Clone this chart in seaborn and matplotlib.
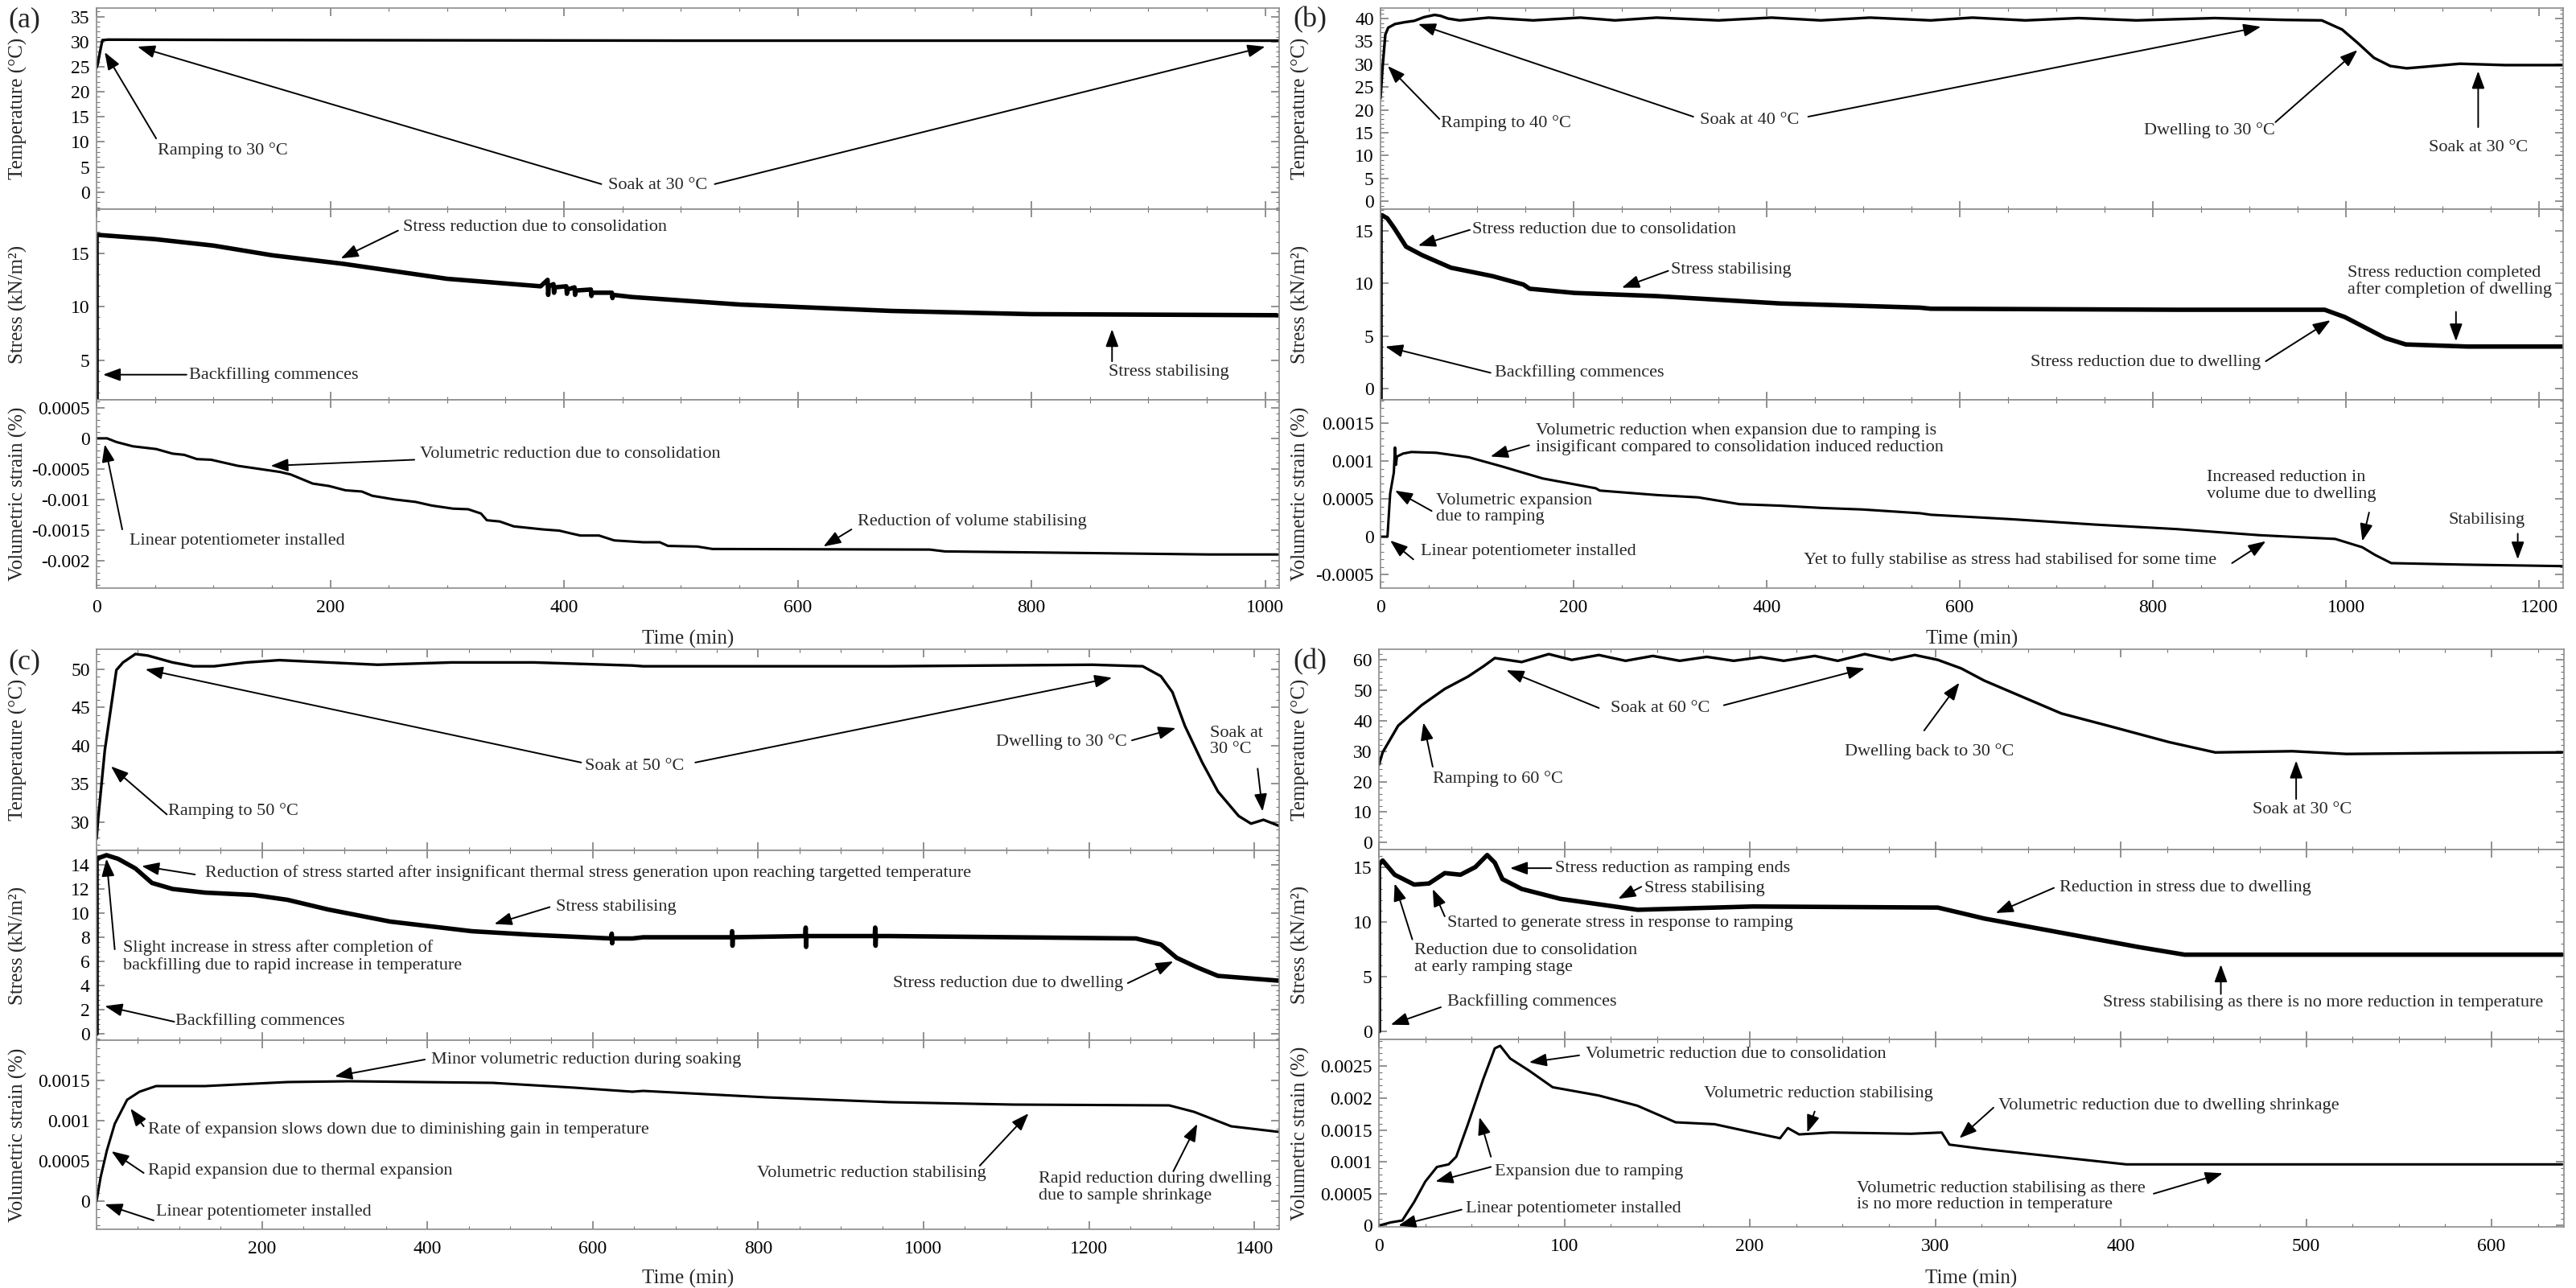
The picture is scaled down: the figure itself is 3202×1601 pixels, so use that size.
import numpy as np
import pandas as pd
import seaborn as sns
import matplotlib.pyplot as plt
from matplotlib.ticker import MultipleLocator, AutoMinorLocator, FuncFormatter

# ---------------- values ----------------
# (a) soak at 30 C
a_temp_t = [0, 1, 3, 5, 10, 200, 500, 800, 1012]
a_temp_v = [24.8, 25.5, 28.0, 30.3, 30.4, 30.3, 30.2, 30.2, 30.2]
a_stress_t = [0, 0, 1, 50, 100, 150, 211, 300, 380, 386, 386.5, 387, 391, 391.5, 392,
              402, 402.5, 403, 409, 409.5, 410, 423, 423.5, 424, 441, 441.5, 442,
              458, 550, 680, 800, 1010]
a_stress_v = [0, 16.7, 16.7, 16.3, 15.7, 14.8, 14.0, 12.6, 11.9, 12.5, 11.1, 11.9, 12.1, 11.3, 11.8,
              11.9, 11.2, 11.6, 11.8, 11.1, 11.5, 11.6, 11.0, 11.3, 11.3, 10.8, 11.1,
              10.9, 10.2, 9.6, 9.3, 9.2]
a_strain_t = [0, 9, 17, 31, 51, 65, 75, 86, 98, 121, 132, 157, 166, 185, 199, 213, 227, 236,
              255, 273, 287, 305, 318, 329, 334, 345, 357, 382, 396, 407, 414, 430, 443,
              468, 482, 489, 514, 527, 713, 726, 819, 952, 1012]
a_strain_v = [0, 0, -0.00006, -0.00013, -0.000175, -0.00025, -0.00027, -0.00034, -0.00035,
              -0.00045, -0.00048, -0.00055, -0.00059, -0.00074, -0.00078, -0.00085, -0.00087,
              -0.00094, -0.0010, -0.00104, -0.0011, -0.00115, -0.00116, -0.00123, -0.00134,
              -0.00136, -0.00144, -0.00149, -0.00151, -0.00156, -0.00159, -0.00159, -0.00167,
              -0.0017, -0.0017, -0.00176, -0.00177, -0.00181, -0.00182, -0.00185, -0.00187,
              -0.0019, -0.0019]

# (b) soak at 40 C then dwell to 30 C
b_temp_t = [0, 2, 5, 8, 15, 25, 35, 45, 56, 62, 70, 82, 112, 158, 207, 243, 286, 350, 405,
            456, 507, 570, 613, 668, 723, 783, 864, 937, 975, 996, 1012, 1029, 1046, 1063,
            1080, 1118, 1165, 1225]
b_temp_v = [22.5, 29.0, 36.5, 38.0, 38.8, 39.2, 39.5, 40.3, 40.8, 40.6, 40.0, 39.6, 40.2,
            39.6, 40.2, 39.6, 40.2, 39.6, 40.2, 39.6, 40.2, 39.6, 40.2, 39.6, 40.1, 39.6,
            40.1, 39.7, 39.6, 37.6, 34.7, 31.4, 29.6, 29.1, 29.4, 30.1, 29.8, 29.8]
b_stress_t = [0, 0, 1.5, 7, 14, 26.5, 43, 73, 116, 148, 154.5, 201, 286, 414, 559, 570,
              825, 978, 999, 1020, 1041, 1062, 1126, 1228]
b_stress_v = [-1, 16.3, 16.5, 16.2, 15.3, 13.5, 12.7, 11.5, 10.7, 9.9, 9.5, 9.1, 8.8, 8.1,
              7.7, 7.6, 7.5, 7.5, 6.8, 5.8, 4.8, 4.2, 4.0, 4.0]
b_strain_t = [0, 7.2, 10, 13.8, 15, 16, 17, 23.5, 32, 57.5, 91.5, 125.5, 168, 223, 227, 287,
              329, 372, 414, 457, 499, 559, 570, 655, 740, 825, 910, 989, 1017, 1030, 1047,
              1124, 1227]
b_strain_v = [0, 0, 0.00057, 0.00085, 0.00118, 0.00095, 0.00106, 0.0011, 0.00112, 0.00111,
              0.00105, 0.00093, 0.00077, 0.00064, 0.00061, 0.00055, 0.00052, 0.00043, 0.00041,
              0.00038, 0.00036, 0.00031, 0.00029, 0.00023, 0.00016, 0.0001, 0.00002, -0.00003,
              -0.00014, -0.00024, -0.00035, -0.00037, -0.00039]

# (c) soak at 50 C then dwell to 30 C
c_temp_t = [0, 2, 10, 24, 32, 47, 62, 92, 117, 142, 181, 221, 280, 340, 429, 529, 648, 661,
            959, 1204, 1265, 1287, 1301, 1316, 1337, 1356, 1381, 1396, 1411, 1430]
c_temp_v = [27.8, 30.5, 39.4, 49.9, 50.9, 52.0, 51.8, 50.9, 50.4, 50.4, 50.9, 51.2, 50.9,
            50.6, 50.9, 50.9, 50.5, 50.4, 50.4, 50.6, 50.4, 49.1, 47.0, 42.6, 37.8, 34.0,
            30.8, 29.8, 30.3, 29.5]
c_stress_t = [0, 0, 12, 26, 47, 67, 92, 131, 190, 231, 280, 355, 454, 528, 622, 623, 623.5,
              624, 648, 661, 768, 768.5, 769, 769.5, 857, 857.5, 858, 858.5, 941, 941.5, 942,
              942.5, 959, 1257, 1287, 1306, 1331, 1356, 1430]
c_stress_v = [0, 14.5, 14.8, 14.5, 13.7, 12.5, 12.0, 11.7, 11.5, 11.1, 10.3, 9.3, 8.5, 8.2,
              7.9, 8.3, 7.5, 7.9, 7.9, 8.0, 8.0, 8.5, 7.3, 8.0, 8.1, 8.8, 7.2, 8.1, 8.1, 8.8,
              7.3, 8.1, 8.1, 7.9, 7.4, 6.3, 5.5, 4.8, 4.4]
c_strain_t = [0, 5, 12.5, 22, 37, 52, 72, 131, 231, 305, 479, 578, 648, 661, 810, 959, 1108,
              1297, 1327, 1372, 1430]
c_strain_v = [0, 0.0003, 0.00063, 0.00096, 0.00126, 0.00136, 0.00143, 0.00143, 0.00148,
              0.00149, 0.00147, 0.00141, 0.00136, 0.00137, 0.00129, 0.00123, 0.0012, 0.00119,
              0.00111, 0.00093, 0.00086]

# (d) soak at 60 C then dwell back to 30 C
d_temp_t = [0, 2, 10.4, 23, 35.6, 48, 56.4, 62.5, 77, 91.6, 104, 118.6, 133, 147.7, 162.2,
            176.8, 191.3, 205.9, 218.3, 235, 247.4, 262, 276.5, 289, 301.4, 314, 326.4, 368,
            393, 426, 451, 492.6, 521.7, 575.7, 638]
d_temp_v = [25.5, 29.6, 38.4, 45.1, 50.5, 54.5, 57.9, 60.6, 59.3, 61.9, 60.0, 61.6, 59.7,
            61.3, 59.7, 61.0, 59.7, 60.9, 59.7, 61.3, 59.7, 61.9, 60.0, 61.6, 60.0, 57.2,
            53.2, 42.4, 38.4, 33.0, 29.6, 30.0, 29.1, 29.4, 29.6]
d_stress_t = [0, 0, 2, 8.5, 19, 27, 35.5, 44, 52, 58.4, 62.5, 66.6, 77, 97.8, 127, 139.5,
              201.7, 301.4, 314, 326.4, 368, 409.5, 434.4, 492.6, 638]
d_stress_v = [0, 15.2, 15.6, 14.3, 13.4, 13.5, 14.45, 14.3, 15.0, 16.1, 15.4, 13.9, 13.0,
              12.1, 11.4, 11.1, 11.4, 11.3, 10.8, 10.3, 9.0, 7.7, 7.0, 7.0, 7.0]
d_strain_t = [0, 6.4, 12.6, 19, 25, 31.3, 37.6, 41.7, 48, 56.3, 62.5, 65.4, 70.8, 81, 93.7,
              118.6, 139.4, 160, 181, 201.7, 216.3, 220.5, 226.6, 244, 287, 303.5, 307.6,
              326.4, 368, 403, 454, 638]
d_strain_v = [0, 0.00005, 0.00008, 0.00037, 0.00069, 0.00092, 0.00096, 0.00108, 0.00159,
              0.0023, 0.00278, 0.00282, 0.00262, 0.00243, 0.00217, 0.00204, 0.00188, 0.00162,
              0.00159, 0.00146, 0.00137, 0.00153, 0.00143, 0.00146, 0.00144, 0.00146, 0.00127,
              0.0012, 0.00107, 0.00096, 0.00096, 0.00096]

# tick labels
a_temp_ticks = [0, 5, 10, 15, 20, 25, 30, 35]
a_stress_ticks = [5, 10, 15]
a_strain_ticks = [0.0005, 0, -0.0005, -0.001, -0.0015, -0.002]
b_temp_ticks = [0, 5, 10, 15, 20, 25, 30, 35, 40]
b_stress_ticks = [0, 5, 10, 15]
b_strain_ticks = [-0.0005, 0, 0.0005, 0.001, 0.0015]
c_temp_ticks = [30, 35, 40, 45, 50]
c_stress_ticks = [0, 2, 4, 6, 8, 10, 12, 14]
c_strain_ticks = [0, 0.0005, 0.001, 0.0015]
d_temp_ticks = [0, 10, 20, 30, 40, 50, 60]
d_stress_ticks = [0, 5, 10, 15]
d_strain_ticks = [0, 0.0005, 0.001, 0.0015, 0.002, 0.0025]
a_xticks = [0, 200, 400, 600, 800, 1000]
b_xticks = [0, 200, 400, 600, 800, 1000, 1200]
c_xticks = [200, 400, 600, 800, 1000, 1200, 1400]
d_xticks = [0, 100, 200, 300, 400, 500, 600]

# annotations: (row, text, text position, ha, [(arrow tail, arrow tip), ...])
a_notes = [
    (0, 'Ramping to 30 °C', (52, 8.3), 'left', [((51, 10.7), (7, 27.9))]),
    (0, 'Soak at 30 °C', (480, 1.4), 'center', [((432, 1.6), (35, 29)), ((529, 1.6), (1000, 29))]),
    (1, 'Stress reduction due to consolidation', (262, 17.4), 'left', [((258, 17.1), (209, 14.5))]),
    (1, 'Stress stabilising', (866, 3.9), 'left', [((869, 4.9), (869, 7.9))]),
    (1, 'Backfilling commences', (79, 3.6), 'left', [((77, 3.65), (5.5, 3.65))]),
    (2, 'Volumetric reduction due to consolidation', (277, -0.00026), 'left',
     [((272, -0.00035), (149, -0.00045))]),
    (2, 'Linear potentiometer installed', (28, -0.00168), 'left', [((22, -0.00149), (7, -0.0001))]),
    (2, 'Reduction of volume stabilising', (651, -0.00136), 'left', [((646, -0.00149), (622, -0.00177))]),
]
b_notes = [
    (0, 'Ramping to 40 °C', (62.5, 17.1), 'left', [((61, 18), (7.5, 29.6))]),
    (0, 'Soak at 40 °C', (331, 17.8), 'left', [((324, 18.5), (39, 38.8)), ((443, 18.5), (912, 38.2))]),
    (0, 'Dwelling to 30 °C', (791, 15.5), 'left', [((927, 17.3), (1012, 33.1))]),
    (0, 'Soak at 30 °C', (1137, 11.8), 'center', [((1137, 16.2), (1137, 28.5))]),
    (1, 'Stress reduction due to consolidation', (95, 15.1), 'left', [((92.5, 15.1), (39, 13.6))]),
    (1, 'Stress stabilising', (301, 11.3), 'left', [((298, 11.2), (250, 9.6))]),
    (1, 'Backfilling commences', (118, 1.5), 'left', [((114, 1.5), (5, 4.0))]),
    (1, 'Stress reduction due to dwelling', (912, 2.5), 'right', [((917, 2.6), (984, 6.5))]),
    (1, 'Stress reduction completed\nafter completion of dwelling', (1002, 10.2), 'left',
     [((1114, 7.3), (1114, 4.5))]),
    (2, 'Volumetric reduction when expansion due to ramping is\ninsigificant compared to consolidation induced reduction',
     (161, 0.00129), 'left', [((154, 0.00121), (114, 0.00106))]),
    (2, 'Volumetric expansion\ndue to ramping', (57.5, 0.00037), 'left', [((53, 0.00034), (15, 0.00061))]),
    (2, 'Linear potentiometer installed', (41.7, -0.0002), 'left', [((34, -0.0003), (10, -0.00005))]),
    (2, 'Yet to fully stabilise as stress had stabilised for some time', (866, -0.00031), 'right',
     [((882, -0.00035), (917, -0.00006))]),
    (2, 'Increased reduction in\nvolume due to dwelling', (856, 0.00067), 'left',
     [((1024, 0.00032), (1017, -0.00006))]),
    (2, 'Stabilising', (1106, 0.00022), 'left', [((1178, 0.00004), (1178, -0.0003))]),
]
c_notes = [
    (0, 'Ramping to 50 °C', (87, 31.5), 'left', [((85, 31), (17.5, 37.3))]),
    (0, 'Soak at 50 °C', (590, 37.3), 'left', [((586, 37.8), (59, 50.0)), ((724, 37.8), (1228, 48.9))]),
    (0, 'Dwelling to 30 °C', (1246, 40.5), 'right', [((1252, 40.7), (1305, 42.3))]),
    (0, 'Soak at\n30 °C', (1346, 40.6), 'left', [((1404, 37), (1410, 31.4))]),
    (1, 'Reduction of stress started after insignificant thermal stress generation upon reaching targetted temperature',
     (131, 13.3), 'left', [((119, 13.2), (54.5, 13.9))]),
    (1, 'Stress stabilising', (555, 10.5), 'left', [((548, 10.5), (481, 9.1))]),
    (1, 'Slight increase in stress after completion of\nbackfilling due to rapid increase in temperature',
     (32, 6.4), 'left', [((22, 7), (12, 14.5))]),
    (1, 'Backfilling commences', (95, 1.07), 'left', [((94, 1.0), (10, 2.3))]),
    (1, 'Stress reduction due to dwelling', (1241, 4.2), 'right', [((1247, 4.2), (1302, 6.0))]),
    (2, 'Minor volumetric reduction during soaking', (405, 0.00176), 'left', [((397, 0.00176), (288, 0.00155))]),
    (2, 'Rate of expansion slows down due to diminishing gain in temperature', (62, 0.00089), 'left',
     [((57, 0.00093), (41, 0.00115))]),
    (2, 'Rapid expansion due to thermal expansion', (62, 0.00038), 'left', [((57, 0.00035), (18, 0.00062))]),
    (2, 'Linear potentiometer installed', (72, -0.00013), 'left', [((69, -0.00024), (10, -0.00004))]),
    (2, 'Volumetric reduction stabilising', (1076, 0.00035), 'right', [((1068, 0.00044), (1127, 0.00109))]),
    (2, 'Rapid reduction during dwelling\ndue to sample shrinkage', (1139, 0.00017), 'left',
     [((1302, 0.00037), (1331, 0.00096))]),
]
d_notes = [
    (0, 'Ramping to 60 °C', (29, 21), 'left', [((29, 24.9), (24, 39.4))]),
    (0, 'Soak at 60 °C', (125, 44.2), 'left', [((118.6, 44.2), (68.7, 56.6)), ((186, 45.1), (262, 57.2))]),
    (0, 'Dwelling back to 30 °C', (297, 30), 'center', [((294, 36.8), (313, 52.5))]),
    (0, 'Soak at 30 °C', (498, 10.7), 'center', [((494.6, 14.3), (494.6, 26.9))]),
    (1, 'Stress reduction as ramping ends', (95, 14.9), 'left', [((93, 14.9), (70.7, 14.9))]),
    (1, 'Stress stabilising', (143, 13), 'left', [((141.5, 13.2), (129, 12.1))]),
    (1, 'Started to generate stress in response to ramping', (36.7, 9.9), 'left', [((35.5, 10.5), (29, 13))]),
    (1, 'Reduction due to consolidation\nat early ramping stage', (19, 6.6), 'left', [((18, 8.4), (8.5, 13.5))]),
    (1, 'Backfilling commences', (36.7, 2.7), 'left', [((33.4, 2.2), (6.4, 0.6))]),
    (1, 'Reduction in stress due to dwelling', (367, 13.1), 'left', [((364, 13.1), (332.6, 10.8))]),
    (1, 'Stress stabilising as there is no more reduction in temperature', (509, 2.6), 'center',
     [((454, 3.4), (454, 6.1))]),
    (2, 'Volumetric reduction due to consolidation', (111.5, 0.00269), 'left', [((108, 0.00267), (81, 0.00256))]),
    (2, 'Volumetric reduction stabilising', (237, 0.00207), 'center', [((235, 0.00179), (231, 0.00146))]),
    (2, 'Volumetric reduction due to dwelling shrinkage', (334, 0.00188), 'left',
     [((331.4, 0.00185), (313, 0.00137))]),
    (2, 'Expansion due to ramping', (62.5, 0.00085), 'left',
     [((60.4, 0.00092), (30.5, 0.00069)), ((60.4, 0.00108), (54.2, 0.0017))]),
    (2, 'Linear potentiometer installed', (46.7, 0.00027), 'left', [((44.6, 0.00025), (10.5, 0.0))]),
    (2, 'Volumetric reduction stabilising as there\nis no more reduction in temperature', (257.7, 0.00045), 'left',
     [((417.8, 0.0005), (455, 0.00082))]),
]

# ---------------- styling ----------------
W, H = 3202, 1601
sns.set_theme(style='ticks')
plt.rcParams['font.family'] = ['Liberation Serif', 'DejaVu Serif']
plt.rcParams['axes.edgecolor'] = '0.55'
plt.rcParams['axes.linewidth'] = 1.2
plt.rcParams['xtick.color'] = '0.45'
plt.rcParams['ytick.color'] = '0.45'
plt.rcParams['xtick.labelcolor'] = 'black'
plt.rcParams['ytick.labelcolor'] = 'black'

ylabels = ['Temperature (°C)', 'Stress (kN/m²)', 'Volumetric strain (%)']
line_w = [2.4, 4.0, 2.2]

panels = [
    dict(tag='(a)', tag_xy=(30, 25), left=120, right=1590, rows=(10, 260, 497, 731), lab_x=34,
         xlab_y=783, xlim=(0, 1012), xticks=a_xticks, xminor=50,
         series=[(a_temp_t, a_temp_v), (a_stress_t, a_stress_v), (a_strain_t, a_strain_v)],
         ylims=[(-3.4, 36.7), (1.3, 19.1), (-0.00245, 0.00063)],
         yticks=[a_temp_ticks, a_stress_ticks, a_strain_ticks], notes=a_notes),
    dict(tag='(b)', tag_xy=(1628, 25), left=1716, right=3186, rows=(10, 260, 497, 731), lab_x=1628,
         xlab_y=783, xlim=(0, 1225), xticks=b_xticks, xminor=50,
         series=[(b_temp_t, b_temp_v), (b_stress_t, b_stress_v), (b_strain_t, b_strain_v)],
         ylims=[(-1.76, 42.3), (-1.07, 17.07), (-0.00068, 0.00181)],
         yticks=[b_temp_ticks, b_stress_ticks, b_strain_ticks], notes=b_notes),
    dict(tag='(c)', tag_xy=(30, 823), left=120, right=1590, rows=(807, 1057, 1293, 1528), lab_x=34,
         xlab_y=1578, xlim=(0, 1430), xticks=c_xticks, xminor=50,
         series=[(c_temp_t, c_temp_v), (c_stress_t, c_stress_v), (c_strain_t, c_strain_v)],
         ylims=[(26.3, 52.63), (-0.53, 15.2), (-0.00035, 0.002)],
         yticks=[c_temp_ticks, c_stress_ticks, c_strain_ticks], notes=c_notes),
    dict(tag='(d)', tag_xy=(1628, 823), left=1714, right=3187, rows=(807, 1056, 1292, 1525), lab_x=1628,
         xlab_y=1578, xlim=(0, 639), xticks=d_xticks, xminor=25,
         series=[(d_temp_t, d_temp_v), (d_stress_t, d_stress_v), (d_strain_t, d_strain_v)],
         ylims=[(-2.3, 63.5), (-0.74, 16.6), (-0.00002, 0.00292)],
         yticks=[d_temp_ticks, d_stress_ticks, d_strain_ticks], notes=d_notes),
]


def fmt(v, pos):
    s = '%g' % round(v, 6)
    return '0' if s in ('-0', '0') else s


fig = plt.figure(figsize=(W / 100, H / 100), dpi=100)
arrow = dict(arrowstyle='-|>,head_length=0.6,head_width=0.22', color='black', lw=1.4,
             mutation_scale=22, shrinkA=0, shrinkB=0)

for p in panels:
    axes = []
    for r in range(3):
        top, bottom = p['rows'][r], p['rows'][r + 1]
        ax = fig.add_axes([p['left'] / W, 1 - bottom / H,
                           (p['right'] - p['left']) / W, (bottom - top) / H])
        t, v = p['series'][r]
        df = pd.DataFrame({'t': t, 'v': v})
        sns.lineplot(data=df, x='t', y='v', ax=ax, color='black', lw=line_w[r],
                     estimator=None, sort=False)
        ax.set_xlim(p['xlim'])
        ax.set_ylim(p['ylims'][r])
        ax.set_xticks(p['xticks'])
        ax.xaxis.set_minor_locator(MultipleLocator(p['xminor']))
        ax.set_yticks(p['yticks'][r])
        ax.yaxis.set_minor_locator(AutoMinorLocator(5))
        ax.yaxis.set_major_formatter(FuncFormatter(fmt))
        ax.tick_params(axis='both', which='both', direction='in', top=True, right=True)
        ax.tick_params(axis='both', which='major', length=7, width=1.1, labelsize=17)
        ax.tick_params(axis='both', which='minor', length=3, width=0.8)
        ax.tick_params(axis='x', which='major', pad=10)
        ax.tick_params(axis='y', which='major', pad=6)
        ax.set_ylabel(ylabels[r], fontsize=18)
        ax.yaxis.set_label_coords((p['lab_x'] - p['left']) / (p['right'] - p['left']), 0.5)
        if r < 2:
            ax.tick_params(axis='x', labelbottom=False)
            ax.set_xlabel('')
        else:
            ax.set_xlabel('Time (min)', fontsize=18)
            ax.xaxis.set_label_coords(0.5, -(p['xlab_y'] - bottom) / (bottom - top))
        for s in ax.spines.values():
            s.set_color('0.55')
        axes.append(ax)

    for row, text, (tx, ty), ha, arrows in p['notes']:
        ax = axes[row]
        ax.text(tx, ty, text, ha=ha, va='center', fontsize=16, linespacing=1.1, zorder=5)
        for tail, tip in arrows:
            ax.annotate('', xy=tip, xytext=tail, arrowprops=arrow, annotation_clip=False, zorder=6)

    fig.text(p['tag_xy'][0] / W, 1 - p['tag_xy'][1] / H, p['tag'], ha='center', va='center', fontsize=26)

fig.savefig('out.png', dpi=100)
